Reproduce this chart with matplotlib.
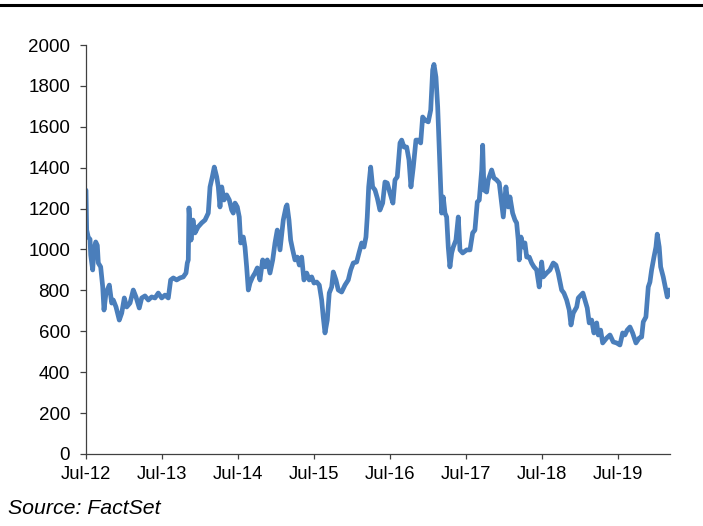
import matplotlib
matplotlib.use("Agg")
import matplotlib.pyplot as plt
from matplotlib.lines import Line2D

# decimal years (Jul-12 = 2012.5) and index values
years = [
    2012.500, 2012.509, 2012.530, 2012.553, 2012.562, 2012.588, 2012.605, 2012.628, 2012.649, 2012.662,
    2012.693, 2012.720, 2012.737, 2012.763, 2012.807, 2012.838, 2012.859, 2012.895, 2012.938, 2012.970,
    2013.004, 2013.036, 2013.079, 2013.122, 2013.158, 2013.201, 2013.233, 2013.276, 2013.320, 2013.364,
    2013.408, 2013.451, 2013.496, 2013.539, 2013.583, 2013.614, 2013.649, 2013.693, 2013.737, 2013.780,
    2013.816, 2013.833, 2013.846, 2013.855, 2013.882, 2013.908, 2013.934, 2013.974, 2014.022, 2014.066,
    2014.109, 2014.132, 2014.162, 2014.188, 2014.220, 2014.241, 2014.263, 2014.286, 2014.316, 2014.351,
    2014.386, 2014.417, 2014.438, 2014.461, 2014.491, 2014.517, 2014.536, 2014.570, 2014.592, 2014.614,
    2014.636, 2014.658, 2014.693, 2014.724, 2014.754, 2014.789, 2014.825, 2014.855, 2014.886, 2014.921,
    2014.957, 2014.987, 2015.017, 2015.053, 2015.096, 2015.132, 2015.145, 2015.171, 2015.193, 2015.220,
    2015.250, 2015.280, 2015.307, 2015.338, 2015.368, 2015.404, 2015.438, 2015.470, 2015.500, 2015.536,
    2015.570, 2015.601, 2015.622, 2015.645, 2015.675, 2015.701, 2015.733, 2015.754, 2015.789, 2015.820,
    2015.864, 2015.908, 2015.951, 2015.983, 2016.017, 2016.062, 2016.092, 2016.128, 2016.158, 2016.184,
    2016.201, 2016.220, 2016.246, 2016.272, 2016.303, 2016.333, 2016.368, 2016.404, 2016.434, 2016.464,
    2016.500, 2016.539, 2016.566, 2016.596, 2016.632, 2016.654, 2016.684, 2016.720, 2016.750, 2016.776,
    2016.807, 2016.842, 2016.872, 2016.904, 2016.930, 2016.961, 2017.004, 2017.036, 2017.062, 2017.079,
    2017.105, 2017.128, 2017.149, 2017.167, 2017.180, 2017.201, 2017.224, 2017.246, 2017.267, 2017.289,
    2017.312, 2017.333, 2017.368, 2017.399, 2017.421, 2017.457, 2017.509, 2017.553, 2017.588, 2017.618,
    2017.649, 2017.675, 2017.707, 2017.720, 2017.737, 2017.772, 2017.793, 2017.838, 2017.868, 2017.904,
    2017.938, 2017.970, 2017.991, 2018.026, 2018.057, 2018.079, 2018.114, 2018.145, 2018.167, 2018.188,
    2018.201, 2018.224, 2018.254, 2018.276, 2018.299, 2018.333, 2018.364, 2018.395, 2018.430, 2018.464,
    2018.496, 2018.517, 2018.562, 2018.605, 2018.649, 2018.684, 2018.714, 2018.759, 2018.789, 2018.825,
    2018.859, 2018.882, 2018.912, 2018.957, 2018.978, 2019.039, 2019.066, 2019.096, 2019.122, 2019.154,
    2019.184, 2019.220, 2019.241, 2019.272, 2019.299, 2019.351, 2019.395, 2019.438, 2019.483, 2019.526,
    2019.562, 2019.592, 2019.622, 2019.658, 2019.693, 2019.737, 2019.780, 2019.812, 2019.833, 2019.868,
    2019.899, 2019.921, 2019.943, 2019.974, 2020.000, 2020.017, 2020.043, 2020.062, 2020.096, 2020.118,
    2020.149, 2020.170, 2020.185,
]
values = [
    1290, 1095, 1060, 1050, 973, 900, 1000, 1037, 1020, 934,
    915, 817, 704, 787, 826, 738, 753, 719, 655, 689,
    763, 719, 738, 802, 768, 714, 763, 773, 753, 768,
    763, 787, 763, 777, 763, 851, 861, 851, 861, 866,
    885, 934, 949, 1203, 1046, 1144, 1081, 1110, 1130, 1144,
    1178, 1306, 1355, 1403, 1355, 1306, 1208, 1306, 1242, 1267,
    1242, 1193, 1178, 1227, 1208, 1159, 1032, 1061, 1012, 915,
    802, 836, 866, 885, 910, 851, 949, 915, 949, 885,
    949, 1032, 1095, 998, 1144, 1208, 1218, 1144, 1046, 998,
    949, 963, 924, 963, 851, 885, 851, 866, 836, 841,
    826, 753, 670, 592, 655, 787, 817, 890, 851, 802,
    792, 826, 851, 900, 934, 939, 983, 1032, 1012, 1061,
    1159, 1306, 1403, 1306, 1291, 1252, 1193, 1227, 1330, 1325,
    1276, 1227, 1340, 1355, 1521, 1535, 1501, 1501, 1438, 1306,
    1403, 1535, 1535, 1521, 1648, 1633, 1624, 1682, 1878, 1905,
    1843, 1697, 1487, 1306, 1178, 1257, 1178, 1159, 1012, 915,
    983, 1012, 1046, 1159, 998, 983, 998, 998, 1081, 1095,
    1232, 1242, 1389, 1510, 1291, 1281, 1340, 1389, 1350, 1340,
    1325, 1227, 1159, 1306, 1208, 1257, 1178, 1144, 1130, 1046,
    949, 1061, 1012, 1032, 963, 963, 934, 915, 900, 817,
    939, 866, 885, 900, 934, 924, 885, 802, 787, 753,
    704, 631, 689, 719, 763, 787, 753, 714, 641, 655,
    592, 641, 582, 606, 543, 567, 582, 548, 543, 533,
    592, 582, 606, 621, 592, 543, 567, 572, 646, 670,
    817, 841, 900, 963, 1012, 1075, 1012, 915, 866, 826,
    768, 802, 795,
]

tick_years = [2012.5, 2013.5, 2014.5, 2015.5, 2016.5, 2017.5, 2018.5, 2019.5]
tick_labels = ["Jul-12", "Jul-13", "Jul-14", "Jul-15", "Jul-16", "Jul-17", "Jul-18", "Jul-19"]
y_ticks = [0, 200, 400, 600, 800, 1000, 1200, 1400, 1600, 1800, 2000]

plt.rcParams['font.family'] = ['Liberation Sans', 'DejaVu Sans']

fig = plt.figure(figsize=(7.03, 5.26), dpi=100)
ax = fig.add_axes([86/703, 1 - 454/526, (670-86)/703, (454-45)/526])

ax.plot(years, values, color='#4A7EBB', linewidth=3.4, solid_joinstyle='round', solid_capstyle='round')

ax.set_xlim(2012.5, 2020.185)
ax.set_ylim(0, 2000)
ax.set_xticks(tick_years)
ax.set_xticklabels(tick_labels)
ax.set_yticks(y_ticks)
ax.set_yticklabels([str(v) for v in y_ticks])

for s in ['top', 'right']:
    ax.spines[s].set_visible(False)
for s in ['left', 'bottom']:
    ax.spines[s].set_color('#404040')
    ax.spines[s].set_linewidth(0.9)

ax.tick_params(axis='y', direction='out', length=4.5, width=0.9, color='#404040', pad=7, labelsize=13.5)
ax.tick_params(axis='x', direction='out', length=3.6, width=0.9, color='#404040', pad=5, labelsize=13.3)

# top rule
fig.add_artist(Line2D([0, 1], [1 - 5/526, 1 - 5/526], transform=fig.transFigure, color='black', linewidth=2.2))

fig.text(8/703, 1 - 508/526, "Source: FactSet", fontsize=15.3, style='italic', ha='left', va='center')

fig.savefig("out.png", dpi=100)
